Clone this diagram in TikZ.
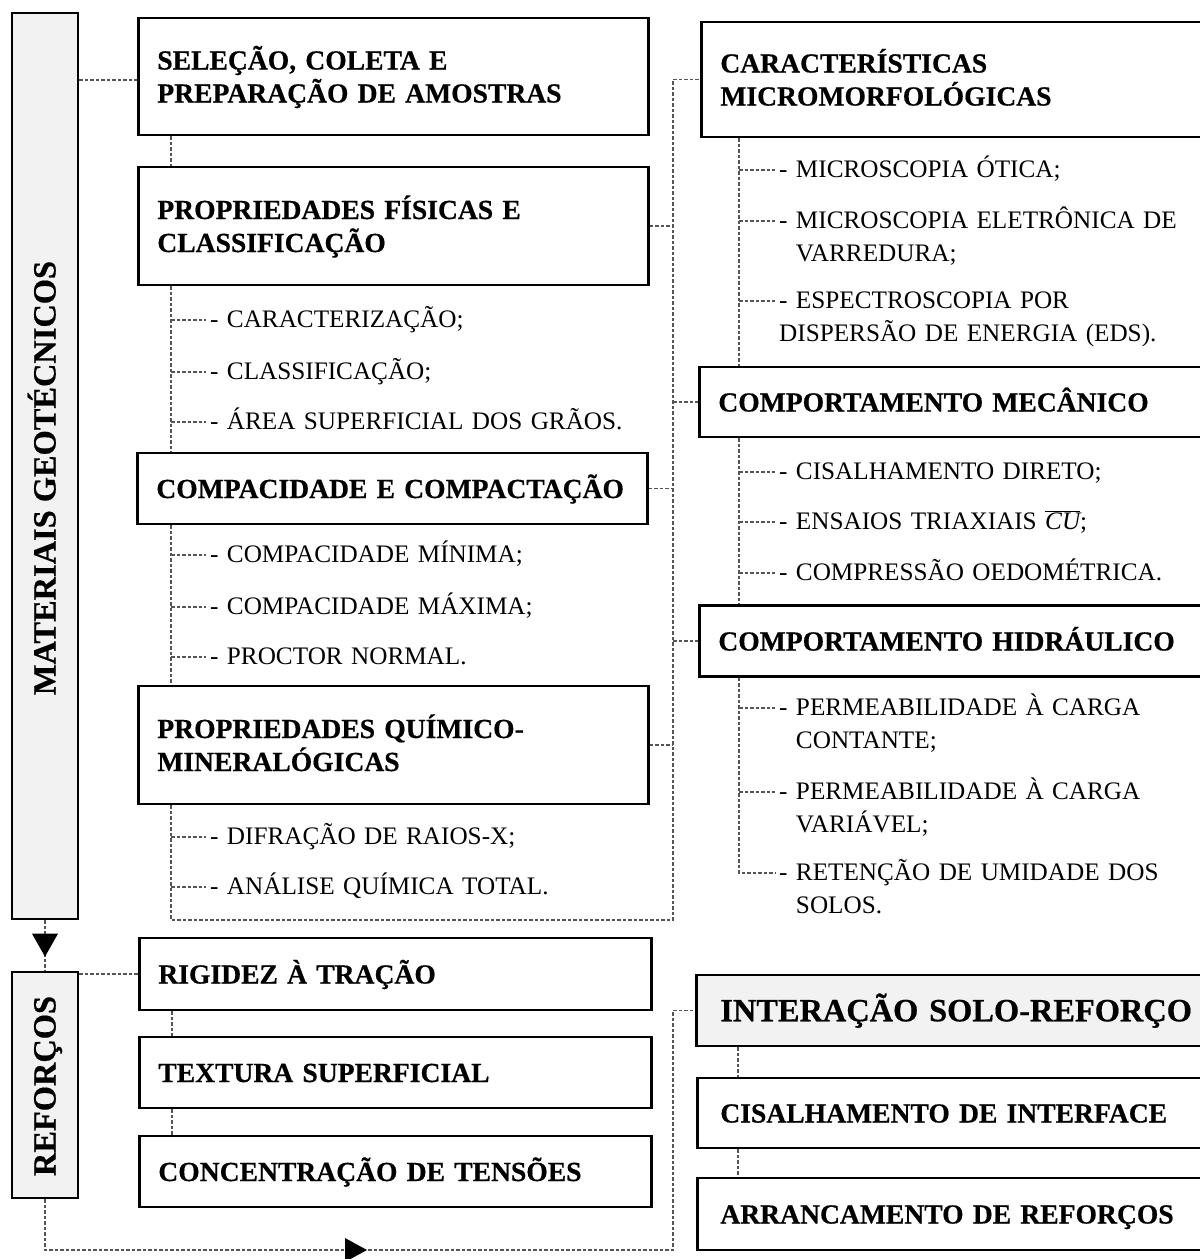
\documentclass[tikz,border=0pt]{standalone}
\usepackage{fontspec}
\setmainfont{Liberation Serif}[BoldFeatures={FakeBold=0.5}]
\usetikzlibrary{calc}
\definecolor{boxgray}{HTML}{F2F2F2}
\definecolor{dashgray}{HTML}{555555}
\newcommand{\myhead}{\fontsize{27.6}{33}\selectfont\bfseries}
\newcommand{\myitem}{\fontsize{25.2}{33}\selectfont}
\newcommand{\mybig}{\fontsize{32.4}{38}\selectfont\bfseries}
\begin{document}
\begin{tikzpicture}[x=1pt,y=-1pt,
  box/.style={draw=black, line width=2.7pt, fill=white, rectangle, anchor=west,
    inner xsep=19pt, inner ysep=0pt, align=left, font=\myhead, text height=19pt, text depth=0pt},
  twoline/.style={text depth=33pt},
  gbox/.style={box, fill=boxgray},
  sidebox/.style={draw=black, line width=2.7pt, fill=boxgray, rectangle, inner sep=0pt},
  sidelabel/.style={rotate=90, font=\mybig, inner sep=0pt, text height=21pt, text depth=0pt},
  item/.style={anchor=base west, inner sep=0pt, align=left, font=\myitem, text width=420pt},
  dsh/.style={draw=dashgray, line width=1.1pt, dash pattern=on 3.5pt off 2pt},
  tip/.style={fill=black}]
\useasboundingbox (0,0) rectangle (1200,1259);
\clip (0,0) rectangle (1200,1259);

% guide coordinates
\coordinate (L) at (171,0);
\coordinate (Lr) at (172,0);
\coordinate (R) at (673,0);
\coordinate (S) at (739,0);
\coordinate (Sr) at (738,0);
\coordinate (Y80) at (0,80);
\coordinate (Lbot) at (171,920);
\coordinate (Rbot) at (673,920);
\coordinate (B) at (0,1250);

% side boxes
\node[sidebox, minimum width=66pt, minimum height=906pt] (mat) at (45,466) {};
\node[sidelabel] (matlbl) at (45,478) {MATERIAIS GEOTÉCNICOS};
\node[sidebox, minimum width=66pt, minimum height=226pt] (ref) at (45,1085) {};
\node[sidelabel] (reflbl) at (45,1086) {REFORÇOS};

% left column boxes
\node[box, twoline, minimum width=510pt, minimum height=117pt, text width=472pt] (sel) at (137,76.5)
  {SELEÇÃO, COLETA E\\PREPARAÇÃO DE AMOSTRAS};
\node[box, twoline, minimum width=510pt, minimum height=118pt, text width=472pt] (pfis) at (137,226)
  {PROPRIEDADES FÍSICAS E\\CLASSIFICAÇÃO};
\node[box, minimum width=510pt, minimum height=71pt, text width=472pt] (comp) at (136,488.5)
  {COMPACIDADE E COMPACTAÇÃO};
\node[box, twoline, minimum width=510pt, minimum height=118pt, text width=472pt] (quim) at (137,745)
  {PROPRIEDADES QUÍMICO-\\MINERALÓGICAS};
\node[box, minimum width=512pt, minimum height=72pt, text width=474pt] (rig) at (138,974)
  {RIGIDEZ À TRAÇÃO};
\node[box, minimum width=512pt, minimum height=71pt, text width=474pt] (tex) at (138,1072.5)
  {TEXTURA SUPERFICIAL};
\node[box, minimum width=512pt, minimum height=71pt, text width=474pt] (conc) at (138,1171.5)
  {CONCENTRAÇÃO DE TENSÕES};

% right column boxes
\node[box, twoline, minimum width=515pt, minimum height=115pt, text width=477pt] (carac) at (700,79.5)
  {CARACTERÍSTICAS\\MICROMORFOLÓGICAS};
\node[box, minimum width=517pt, minimum height=70pt, text width=479pt] (mec) at (698,402)
  {COMPORTAMENTO MECÂNICO};
\node[box, minimum width=517pt, minimum height=71pt, text width=479pt] (hid) at (698,641)
  {COMPORTAMENTO HIDRÁULICO};
\node[gbox, font=\mybig, text height=21.5pt, inner xsep=24pt, minimum width=520pt, minimum height=71pt, text width=472pt] (inter) at (695,1010.5)
  {INTERAÇÃO SOLO-REFORÇO};
\node[box, inner xsep=23pt, minimum width=519pt, minimum height=70pt, text width=473pt] (cis) at (696,1113)
  {CISALHAMENTO DE INTERFACE};
\node[box, inner xsep=23pt, minimum width=519pt, minimum height=72pt, text width=473pt] (arr) at (696,1214)
  {ARRANCAMENTO DE REFORÇOS};

% left items
\node[item] (i1) at (210,327) {- CARACTERIZAÇÃO;};
\node[item] (i2) at (210,379) {- CLASSIFICAÇÃO;};
\node[item] (i3) at (210,429) {- ÁREA SUPERFICIAL DOS GRÃOS.};
\node[item] (i4) at (210,562) {- COMPACIDADE MÍNIMA;};
\node[item] (i5) at (210,614) {- COMPACIDADE MÁXIMA;};
\node[item] (i6) at (210,664) {- PROCTOR NORMAL.};
\node[item] (i7) at (210,844) {- DIFRAÇÃO DE RAIOS-X;};
\node[item] (i8) at (210,894) {- ANÁLISE QUÍMICA TOTAL.};

% right items
\node[item] (r1) at (779,177) {- MICROSCOPIA ÓTICA;};
\node[item] (r2) at (779,228) {- MICROSCOPIA ELETRÔNICA DE\\\hphantom{- }VARREDURA;};
\node[item] (r3) at (779,308) {- ESPECTROSCOPIA POR\\DISPERSÃO DE ENERGIA (EDS).};
\node[item] (r4) at (779,479) {- CISALHAMENTO DIRETO;};
\node[item] (r5) at (779,529) {- ENSAIOS TRIAXIAIS $\overline{\mbox{\itshape CU}}$;};
\node[item] (r6) at (779,580) {- COMPRESSÃO OEDOMÉTRICA.};
\node[item] (r7) at (779,715) {- PERMEABILIDADE À CARGA\\\hphantom{- }CONTANTE;};
\node[item] (r8) at (779,799) {- PERMEABILIDADE À CARGA\\\hphantom{- }VARIÁVEL;};
\node[item] (r9) at (779,880) {- RETENÇÃO DE UMIDADE DOS\\\hphantom{- }SOLOS.};

% connectors: materials
\draw[dsh] (mat.east |- Y80) -- (sel.west |- Y80);
\draw[dsh] (sel.south -| L) -- (pfis.north -| L);
\draw[dsh] (pfis.south -| L) -- (comp.north -| L);
\draw[dsh] (comp.south -| L) -- (quim.north -| L);
\draw[dsh] (quim.south -| L) -- (Lbot) -- (Rbot) -- (carac.west -| R) -- (carac.west);
\draw[dsh] (pfis.east) -- (pfis.east -| R);
\draw[dsh] (comp.east) -- (comp.east -| R);
\draw[dsh] (quim.east) -- (quim.east -| R);
\draw[dsh] (mec.west -| R) -- (mec.west);
\draw[dsh] (hid.west -| R) -- (hid.west);

\foreach \n in {i1,i2,i3,i4,i5,i6,i7,i8}{
  \draw[dsh] ($(L |- \n.base west)+(0,-7)$) -- ($(\n.base west)+(-4,-7)$);
}
\draw[dsh] (carac.south -| S) -- (mec.north -| S);
\draw[dsh] (mec.south -| S) -- (hid.north -| S);
\draw[dsh] (hid.south -| S) -- ($(S |- r9.base west)+(0,-7)$) -- ($(r9.base west)+(-4,-7)$);
\foreach \n in {r1,r2,r3,r4,r5,r6,r7,r8}{
  \draw[dsh] ($(S |- \n.base west)+(0,-7)$) -- ($(\n.base west)+(-4,-7)$);
}

% materials -> reinforcements
\draw[dsh] (mat.south) -- (ref.north);
\coordinate (a1) at ($(ref.north)+(0,-14)$);
\fill[tip] (a1) -- ++(-13,-23) -- ++(26,0) -- cycle;
\draw[dsh] (ref.east |- rig.west) -- (rig.west);
\draw[dsh] (rig.south -| Lr) -- (tex.north -| Lr);
\draw[dsh] (tex.south -| Lr) -- (conc.north -| Lr);

% reinforcements -> interaction
\draw[dsh] (ref.south) -- (ref.south |- B) -- (R |- B) -- (R |- inter.west) -- (inter.west);
\coordinate (a2) at (367,1250);
\fill[tip] (a2) -- ++(-22,-12) -- ++(0,24) -- cycle;
\draw[dsh] (inter.south -| Sr) -- (cis.north -| Sr);
\draw[dsh] (cis.south -| Sr) -- (arr.north -| Sr);
\end{tikzpicture}
\end{document}
